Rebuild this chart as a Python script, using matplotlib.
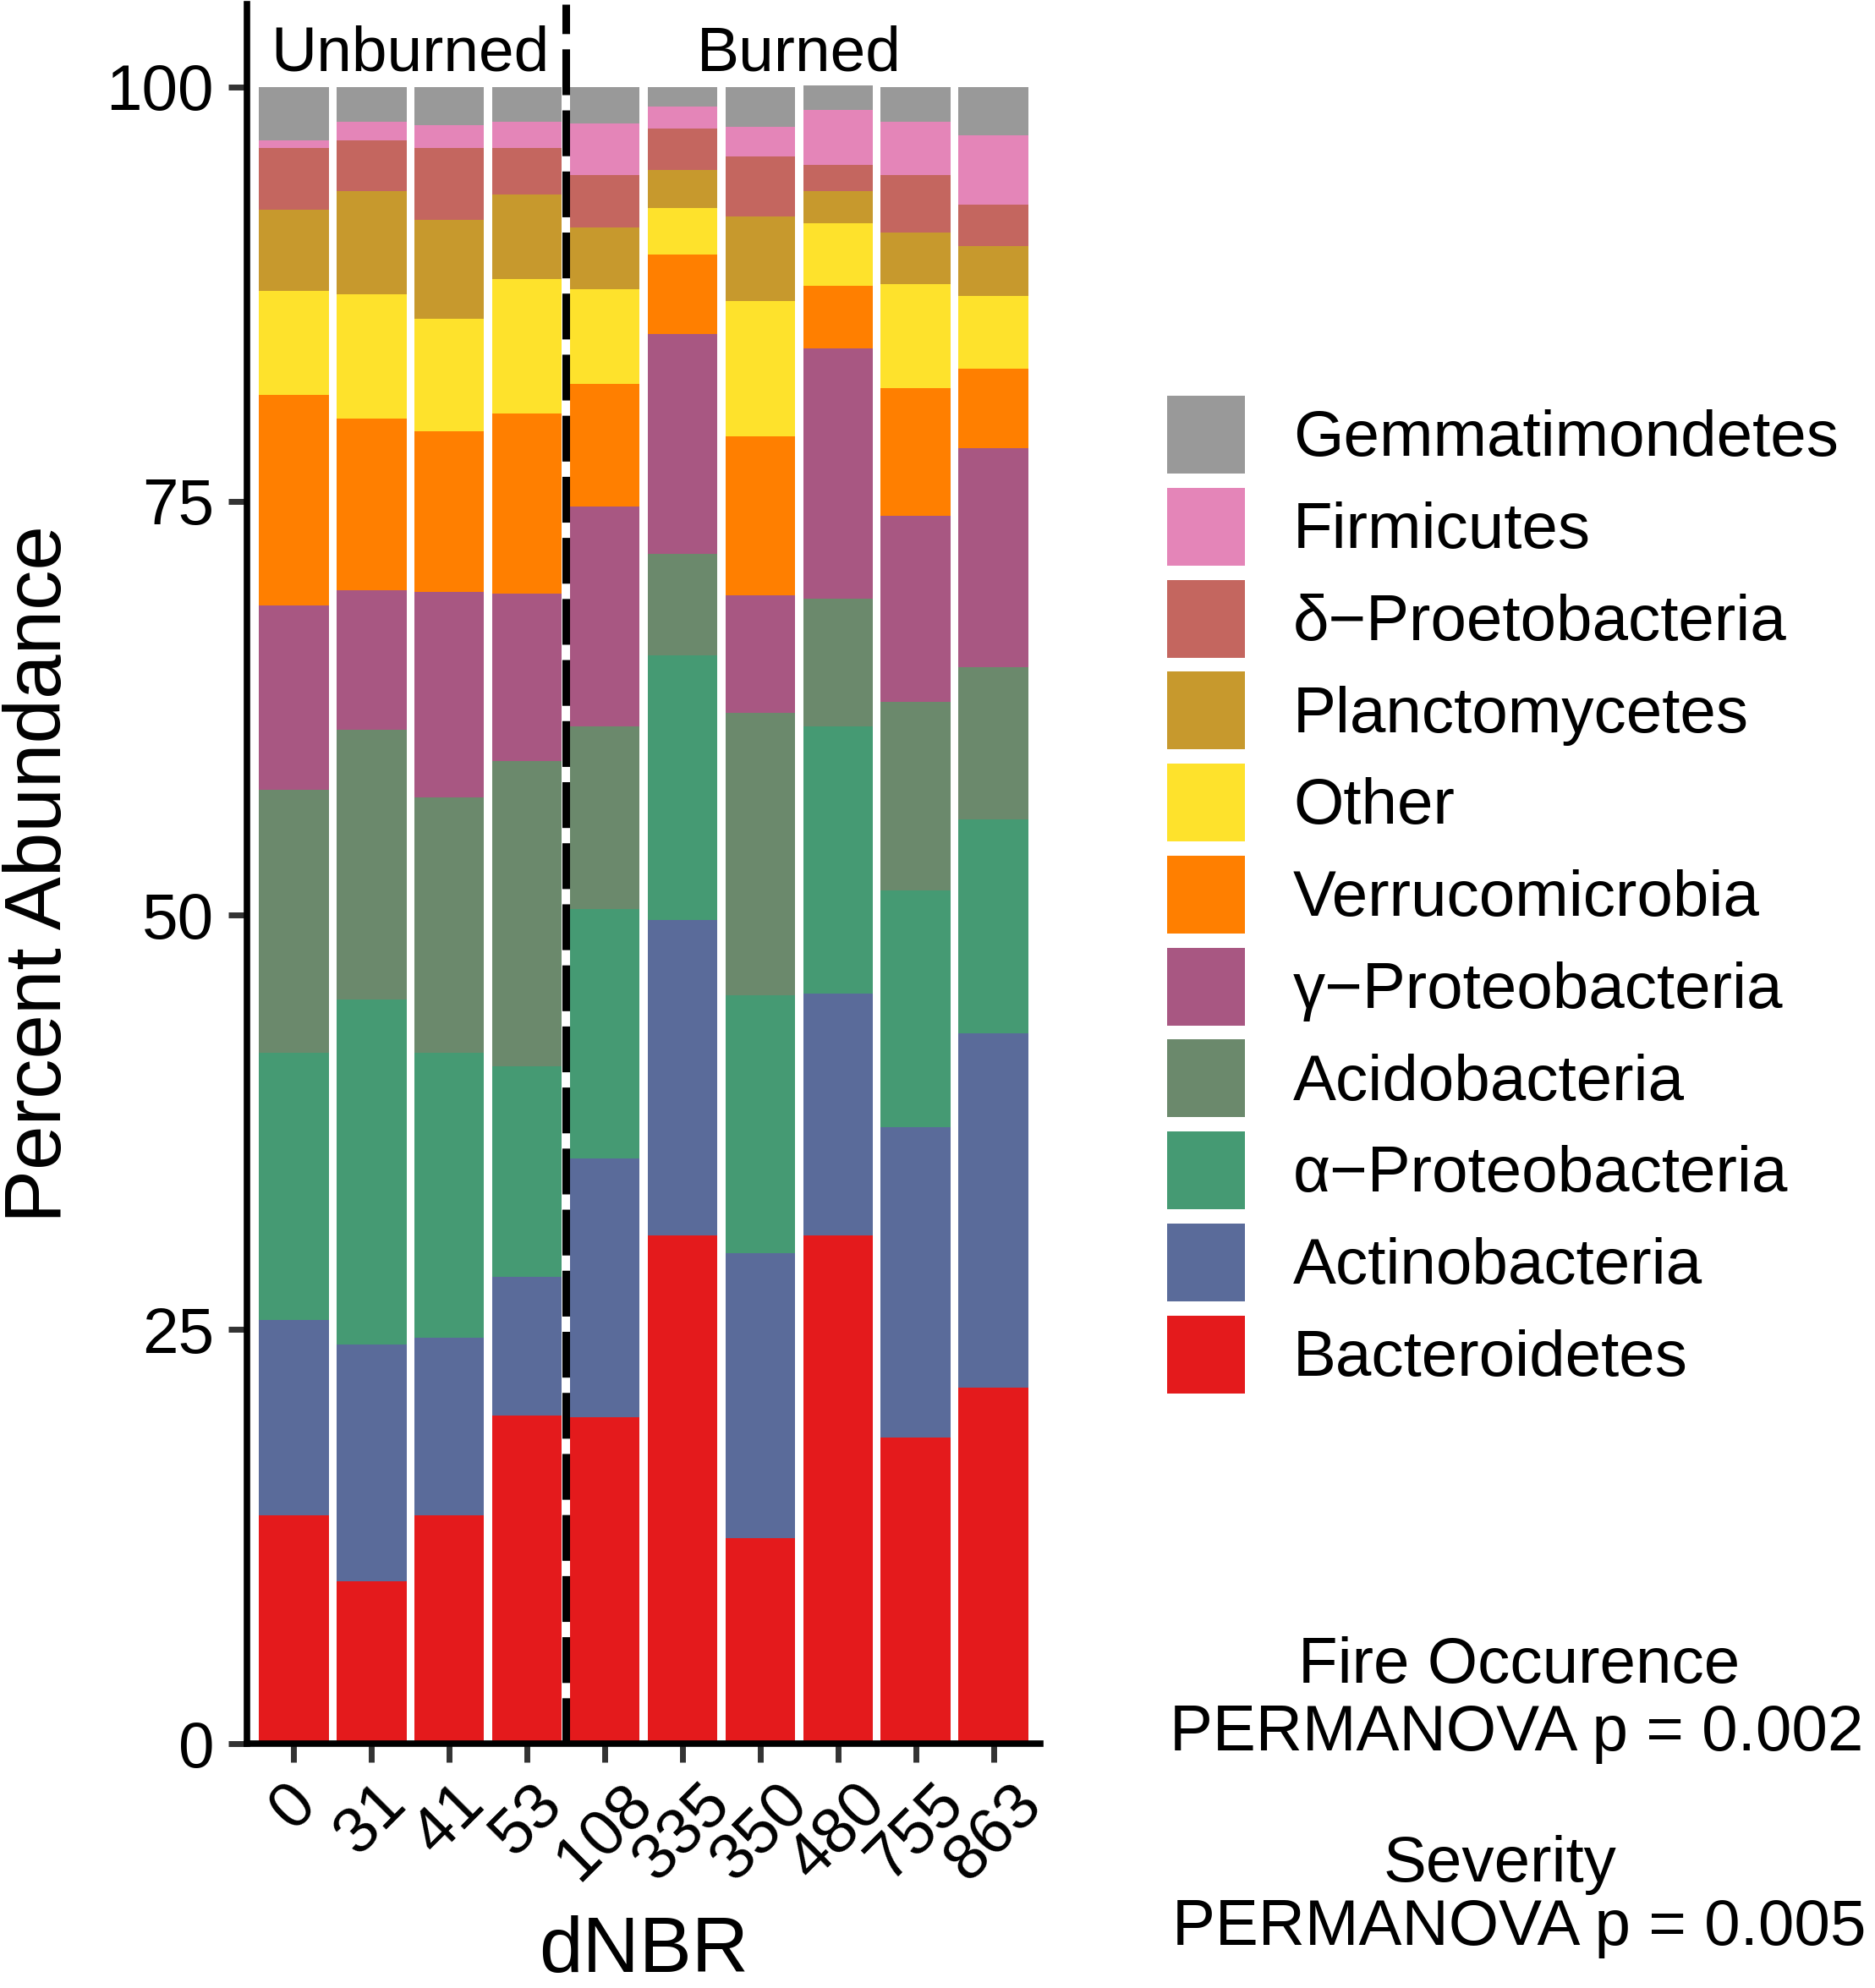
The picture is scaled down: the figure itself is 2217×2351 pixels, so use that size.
import matplotlib
matplotlib.use('Agg')
import matplotlib.pyplot as plt
import numpy as np

plt.rcParams['font.family'] = ['Liberation Sans', 'DejaVu Sans']

# dNBR sites, unburned first then burned
sites = ["0", "31", "41", "53", "108", "335", "350", "480", "755", "863"]

# percent abundance per phylum (bottom of stack first)
bacteroidetes = [13.8, 9.8, 13.8, 19.8, 19.7, 30.7, 12.4, 30.7, 18.5, 21.5]
actinobacteria = [11.8, 14.3, 10.7, 8.4, 15.6, 19.0, 17.2, 14.6, 18.7, 21.4]
alpha_proteo = [16.1, 20.8, 17.2, 12.7, 15.1, 16.0, 15.6, 16.1, 14.3, 12.9]
acidobacteria = [15.9, 16.3, 15.4, 18.4, 11.0, 6.1, 17.0, 7.7, 11.4, 9.2]
gamma_proteo = [11.1, 8.4, 12.4, 10.1, 13.3, 13.3, 7.1, 15.1, 11.2, 13.2]
verrucomicrobia = [12.7, 10.4, 9.7, 10.9, 7.4, 4.8, 9.6, 3.8, 7.7, 4.8]
other = [6.3, 7.5, 6.8, 8.1, 5.7, 2.8, 8.2, 3.8, 6.3, 4.4]
planctomycetes = [4.9, 6.2, 6.0, 5.1, 3.7, 2.3, 5.1, 1.9, 3.1, 3.0]
delta_proteo = [3.7, 3.1, 4.3, 2.8, 3.2, 2.5, 3.6, 1.6, 3.5, 2.5]
firmicutes = [0.5, 1.1, 1.4, 1.6, 3.1, 1.3, 1.8, 3.3, 3.2, 4.2]
gemmatimonadetes = [3.2, 2.1, 2.3, 2.1, 2.2, 1.2, 2.4, 1.5, 2.1, 2.9]

phyla = ["Bacteroidetes", "Actinobacteria", "\u03b1\u2212Proteobacteria", "Acidobacteria",
         "\u03b3\u2212Proteobacteria", "Verrucomicrobia", "Other", "Planctomycetes",
         "\u03b4\u2212Proetobacteria", "Firmicutes", "Gemmatimondetes"]
series = [bacteroidetes, actinobacteria, alpha_proteo, acidobacteria, gamma_proteo,
          verrucomicrobia, other, planctomycetes, delta_proteo, firmicutes, gemmatimonadetes]
colors = ["#E41A1C", "#5A6B9A", "#459A73", "#6B896C", "#A85782", "#FF7F00",
          "#FEE22C", "#C7992D", "#C4665F", "#E485B8", "#999999"]

fig = plt.figure(figsize=(22.17, 23.51), dpi=100)
ax = fig.add_axes([0.1317, 0.1229, 0.4231, 0.875])

x = np.arange(1, len(sites) + 1)
bottom = np.zeros(len(sites))
handles = []
for name, vals, col in zip(phyla, series, colors):
    vals = np.array(vals)
    b = ax.bar(x, vals, width=0.9, bottom=bottom, color=col, label=name, linewidth=0)
    handles.append(b)
    bottom += vals

# unburned / burned divider
ax.axvline(4.5, color='black', linewidth=6.5, dashes=(6.0, 2.0))

ax.set_xlim(0.4, 10.6)
ax.set_ylim(0, 105)
ax.set_yticks([0, 25, 50, 75, 100])
ax.set_xticks(x)
ax.set_xticklabels(sites, rotation=45, ha='center', va='top')

for s in ['top', 'right']:
    ax.spines[s].set_visible(False)
for s in ['left', 'bottom']:
    ax.spines[s].set_linewidth(5.5)
ax.tick_params(axis='both', length=16, width=5, color='#333333', labelsize=55, labelcolor='black')
ax.tick_params(axis='y', pad=12)
ax.tick_params(axis='x', pad=9)

ax.text(2.5, 102.0, "Unburned", ha='center', va='center', fontsize=54)
ax.text(7.5, 102.0, "Burned", ha='center', va='center', fontsize=54)

fig.text(0.0215, 0.5606, "Percent Abundance", rotation=90, ha='center', va='center', fontsize=68)
fig.text(0.3433, 0.0, "dNBR", ha='center', va='bottom', fontsize=67)

lgd = fig.legend(handles[::-1], phyla[::-1], loc='upper left', bbox_to_anchor=(0.6225, 0.8009),
                 fontsize=55, frameon=False, handlelength=1.2, handleheight=1.475,
                 labelspacing=0.22, handletextpad=0.75, borderpad=0, borderaxespad=0)

fig.text(0.810, 1 - 1990 / 2351, "Fire Occurence", ha='center', va='baseline', fontsize=55)
fig.text(0.809, 1 - 2070 / 2351, "PERMANOVA p = 0.002", ha='center', va='baseline', fontsize=55)
fig.text(0.800, 1 - 2225 / 2351, "Severity", ha='center', va='baseline', fontsize=55)
fig.text(0.810, 1 - 2300 / 2351, "PERMANOVA p = 0.005", ha='center', va='baseline', fontsize=55)

fig.savefig('out.png', dpi=100)
